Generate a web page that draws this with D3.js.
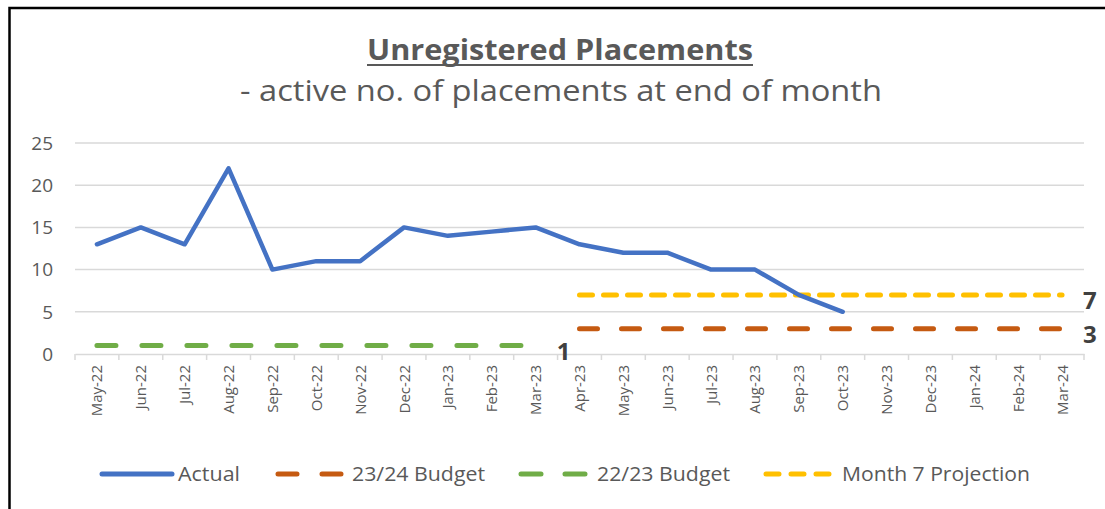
<!DOCTYPE html>
<html><head><meta charset="utf-8">
<script src="https://cdn.jsdelivr.net/npm/d3@7"></script>
<style>html,body{margin:0;padding:0;background:#fff;overflow:hidden}</style>
</head><body>
<script>
const months = ["May-22","Jun-22","Jul-22","Aug-22","Sep-22","Oct-22","Nov-22","Dec-22","Jan-23","Feb-23","Mar-23","Apr-23","May-23","Jun-23","Jul-23","Aug-23","Sep-23","Oct-23","Nov-23","Dec-23","Jan-24","Feb-24","Mar-24"];
const actual = [13,15,13,22,10,11,11,15,14,14.5,15,13,12,12,10,10,7,5];
const budget2223 = [1,1,1,1,1,1,1,1,1,1,1];
const budget2324 = [3,3,3,3,3,3,3,3,3,3,3,3];
const projection = [7,7,7,7,7,7,7,7,7,7,7,7];
const yTicks = [0,5,10,15,20,25];

const W = 1105, H = 509;
const svg = d3.select("body").append("svg").attr("width", W).attr("height", H);
const grey = "#595959";

// border
svg.append("rect").attr("x",9.5).attr("y",8).attr("width",1200).attr("height",600)
  .attr("fill","none").attr("stroke","#000").attr("stroke-width",2.5);

const x = d3.scaleBand().domain(months).range([75,1084]);
const y = d3.scaleLinear().domain([0,25]).range([354,143]);
const cx = m => x(m) + x.bandwidth()/2;

// gridlines
svg.append("g").selectAll("line").data(yTicks.filter(d=>d>0)).join("line")
  .attr("x1",75).attr("x2",1084).attr("y1",d=>y(d)).attr("y2",d=>y(d))
  .attr("stroke","#d9d9d9").attr("stroke-width",1.5);

// y axis labels
svg.append("g").selectAll("text").data(yTicks).join("text")
  .attr("x",53).attr("y",d=>y(d)).attr("dy","0.36em").attr("text-anchor","end")
  .attr("font-family","Open Sans").attr("font-size",19).attr("fill",grey).text(d=>d);

// x axis
const xAxis = d3.axisBottom(x).tickSize(0).tickFormat("");
const gx = svg.append("g").attr("transform","translate(0,354)").call(xAxis);
gx.select(".domain").attr("stroke","#d9d9d9").attr("stroke-width",1.5);
const bounds = months.map(m=>x(m)).concat([x(months[months.length-1])+x.bandwidth()]);
svg.append("g").selectAll("line").data(bounds).join("line")
  .attr("x1",d=>d).attr("x2",d=>d).attr("y1",354).attr("y2",360)
  .attr("stroke","#d9d9d9").attr("stroke-width",1.5);
svg.append("g").selectAll("text").data(months).join("text")
  .attr("transform",d=>`translate(${cx(d)+5.5},365) rotate(-90)`)
  .attr("text-anchor","end")
  .attr("font-family","Open Sans").attr("font-size",15).attr("fill",grey).text(d=>d);

const line = d3.line().x(d=>cx(d.m)).y(d=>y(d.v));
const toPts = (arr, start) => arr.map((v,i)=>({m:months[start+i], v}));

const series = [
  {data: toPts(budget2223,0), color:"#70AD47", dash:"19,26", w:5},
  {data: toPts(budget2324,11), color:"#C55A11", dash:"18,24", w:5},
  {data: toPts(projection,11), color:"#FFC000", dash:"13,11", w:5},
  {data: toPts(actual,0), color:"#4472C4", dash:null, w:4.5}
];
series.forEach(s=>{
  svg.append("path").attr("d",line(s.data)).attr("fill","none")
    .attr("stroke",s.color).attr("stroke-width",s.w)
    .attr("stroke-linecap","round").attr("stroke-linejoin","round")
    .attr("stroke-dasharray",s.dash);
});

// data labels at end of budget/projection lines
const endLabels = [
  {m: months[10], v: budget2223[budget2223.length-1]},
  {m: months[22], v: budget2324[budget2324.length-1]},
  {m: months[22], v: projection[projection.length-1]}
];
svg.append("g").selectAll("text").data(endLabels).join("text")
  .attr("x",d=>cx(d.m)+21).attr("y",d=>y(d.v)).attr("dy","0.6em")
  .attr("font-family","Open Sans").attr("font-weight","bold").attr("font-size",24)
  .attr("fill","#404040").text(d=>d.v);

// title
svg.append("text").attr("x",560).attr("y",60).attr("text-anchor","middle")
  .attr("font-family","Open Sans").attr("font-weight","bold").attr("font-size",29)
  .attr("fill",grey).attr("textLength",386).attr("lengthAdjust","spacingAndGlyphs")
  .text("Unregistered Placements");
svg.append("line").attr("x1",367).attr("x2",753).attr("y1",65).attr("y2",65)
  .attr("stroke",grey).attr("stroke-width",2);
svg.append("text").attr("x",561).attr("y",101).attr("text-anchor","middle")
  .attr("font-family","Open Sans").attr("font-size",29)
  .attr("fill",grey).attr("textLength",642).attr("lengthAdjust","spacingAndGlyphs")
  .text("- active no. of placements at end of month");

// legend
const legend = [
  {name:"Actual", color:"#4472C4", x1:102, x2:172, dash:null, tx:178, tw:62},
  {name:"23/24 Budget", color:"#C55A11", x1:278, x2:344, dash:"19,25", tx:352, tw:133},
  {name:"22/23 Budget", color:"#70AD47", x1:521, x2:588, dash:"20,24", tx:597, tw:133},
  {name:"Month 7 Projection", color:"#FFC000", x1:766, x2:830, dash:"13,12", tx:842, tw:188}
];
const lg = svg.append("g");
legend.forEach(l=>{
  lg.append("line").attr("x1",l.x1).attr("x2",l.x2).attr("y1",474).attr("y2",474)
    .attr("stroke",l.color).attr("stroke-width",5).attr("stroke-linecap","round")
    .attr("stroke-dasharray",l.dash);
  lg.append("text").attr("x",l.tx).attr("y",481)
    .attr("font-family","Open Sans").attr("font-size",20).attr("fill",grey)
    .attr("textLength",l.tw).attr("lengthAdjust","spacingAndGlyphs").text(l.name);
});
</script>
</body></html>
